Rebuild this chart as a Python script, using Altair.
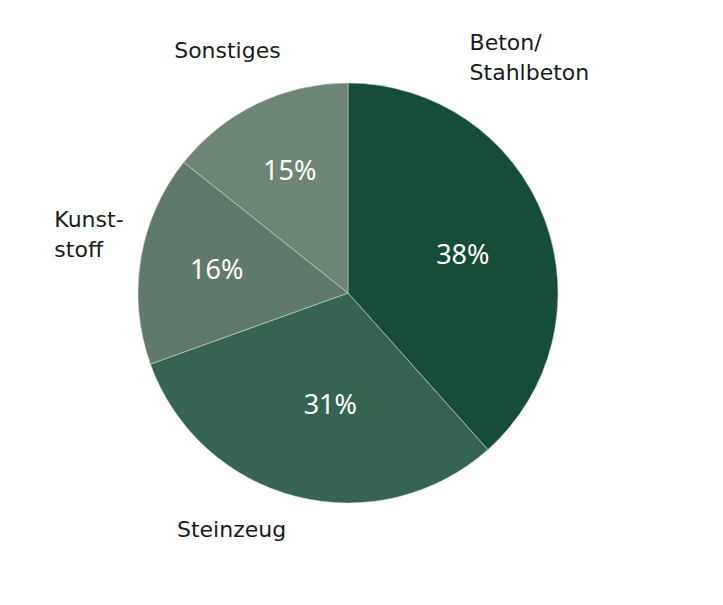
import altair as alt
import pandas as pd

categories = ["Beton/Stahlbeton", "Steinzeug", "Kunststoff", "Sonstiges"]
outer_labels = [["Beton/", "Stahlbeton"], ["Steinzeug"], ["Kunst-", "stoff"], ["Sonstiges"]]
values = [38.4, 31.1, 16.2, 14.3]
pct_labels = ["38%", "31%", "16%", "15%"]
colors = ["#164d39", "#366452", "#61796b", "#6e8575"]

df = pd.DataFrame({
    "cat": categories,
    "value": values,
    "pct": pct_labels,
    "order": list(range(len(categories))),
    "lab": outer_labels,
})

W, H = 670, 560
R = 210

pie = alt.Chart(df).mark_arc(outerRadius=R, stroke="#d9dfdb", strokeWidth=0.5).encode(
    theta=alt.Theta("value:Q", stack=True),
    order=alt.Order("order:Q"),
    color=alt.Color("cat:N", scale=alt.Scale(domain=categories, range=colors), legend=None),
)

# mid-angle of each slice, computed from the data by the library
lab_base = (
    alt.Chart(df)
    .transform_window(cum="sum(value)", sort=[alt.SortField("order")], frame=[None, 0])
    .transform_joinaggregate(total="sum(value)")
    .transform_calculate(mid="(datum.cum - datum.value / 2) / datum.total")
    .encode(theta=alt.Theta("mid:Q", scale=alt.Scale(domain=[0, 1]), stack=None))
)

text_layers = []

pct_off = {"Beton/Stahlbeton": (-2, 8), "Steinzeug": (13, -8), "Kunststoff": (-8, -2), "Sonstiges": (-4, -8)}
for c in categories:
    dx, dy = pct_off[c]
    text_layers.append(
        lab_base.transform_filter(alt.datum.cat == c)
        .mark_text(radius=125, fontSize=27, font="Noto Sans", color="white", dx=dx, dy=dy)
        .encode(text="pct:N")
    )

out_off = {
    "Beton/Stahlbeton": (-112, -161, "left"),
    "Steinzeug": (-55, -5, "center"),
    "Kunststoff": (-47, -32, "left"),
    "Sonstiges": (-12, -17, "center"),
}
for c in categories:
    dx, dy, al = out_off[c]
    text_layers.append(
        lab_base.transform_filter(alt.datum.cat == c)
        .mark_text(radius=250, fontSize=22, font="DejaVu Sans", color="#1a1a1a",
                   dx=dx, dy=dy, align=al, baseline="middle", lineHeight=30)
        .encode(text="lab")
    )

texts = alt.layer(*text_layers)

chart = (
    alt.layer(pie, texts)
    .resolve_scale(theta="independent")
    .properties(width=W, height=H)
    .configure_view(stroke=None)
)

chart.save("out.html", embed_options={"renderer": "svg", "actions": False})
